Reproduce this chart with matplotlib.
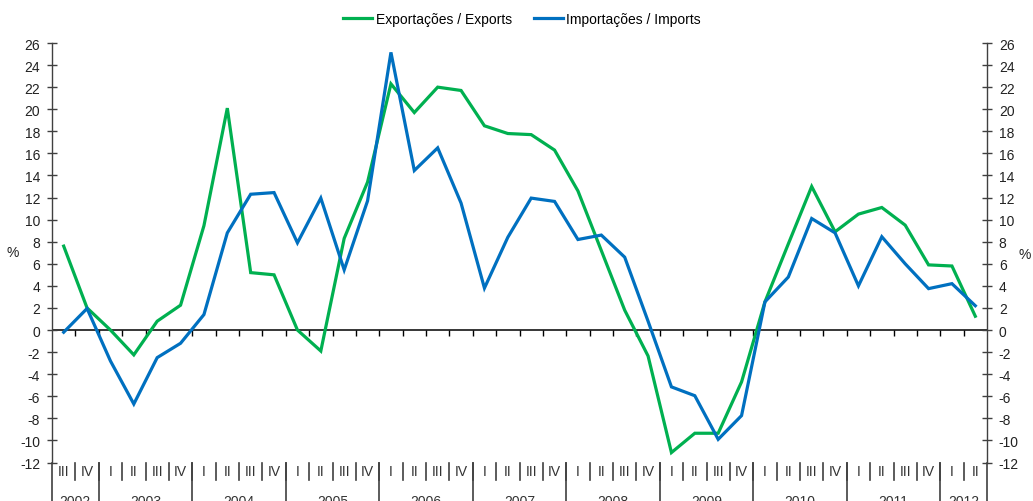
import matplotlib
matplotlib.use("Agg")
import matplotlib.pyplot as plt
import matplotlib.transforms as mtransforms

# --- datos (taxa de variação homóloga, %) ---
trimestres = ["III", "IV"] + ["I", "II", "III", "IV"] * 9 + ["I", "II"]
anos = ["2002", "2003", "2004", "2005", "2006", "2007", "2008", "2009", "2010", "2011", "2012"]
anos_inicio = [0, 2, 6, 10, 14, 18, 22, 26, 30, 34, 38]
anos_fim = [1, 5, 9, 13, 17, 21, 25, 29, 33, 37, 39]

exportacoes = [7.6, 2.0, 0.0, -2.25, 0.8, 2.25, 9.45, 20.1, 5.2, 5.0,
               0.0, -1.9, 8.3, 13.4, 22.3, 19.7, 22.0, 21.7, 18.5, 17.8,
               17.7, 16.3, 12.6, 7.2, 1.8, -2.35, -11.1, -9.35, -9.35, -4.7,
               2.55, 7.8, 13.0, 8.9, 10.5, 11.1, 9.5, 5.9, 5.8, 1.25]
importacoes = [-0.2, 1.95, -2.8, -6.7, -2.5, -1.2, 1.4, 8.8, 12.3, 12.45,
               7.9, 11.95, 5.45, 11.7, 25.15, 14.45, 16.5, 11.5, 3.8, 8.4,
               11.95, 11.65, 8.2, 8.6, 6.6, 0.8, -5.15, -5.95, -9.9, -7.75,
               2.55, 4.8, 10.1, 8.8, 4.0, 8.45, 6.0, 3.75, 4.2, 2.2]

VERDE = "#00B050"
AZUL = "#0070C0"
CINZA = "#404040"

plt.rcParams["font.family"] = ["Liberation Sans", "DejaVu Sans"]
plt.rcParams["font.size"] = 10
plt.rcParams["axes.unicode_minus"] = False

W, H = 1033, 502
fig = plt.figure(figsize=(W / 100, H / 100), dpi=100)

# área do gráfico em pixels
x0, x1 = 52, 987
y_top, y_bot = 44, 463.5
ax = fig.add_axes([x0 / W, 1 - y_bot / H, (x1 - x0) / W, (y_bot - y_top) / H])

x = list(range(len(exportacoes)))
ax.plot(x, exportacoes, color=VERDE, lw=2.3, label="Exportações / Exports", solid_joinstyle="miter")
ax.plot(x, importacoes, color=AZUL, lw=2.3, label="Importações / Imports", solid_joinstyle="miter")

ax.set_xlim(-0.5, len(x) - 0.5)
ax.set_ylim(-12, 26)
ax.set_yticks(range(-12, 27, 2))
ax.set_xticks([])

for s in ["top", "bottom"]:
    ax.spines[s].set_visible(False)
for s in ["left", "right"]:
    ax.spines[s].set_color(CINZA)
    ax.spines[s].set_linewidth(1)

ax.tick_params(axis="y", which="both", direction="inout", length=7, width=1,
               color=CINZA, labelcolor="#222222", left=True, right=True,
               labelleft=True, labelright=True, pad=5, labelsize=10)

# linha do zero com marcas para baixo
ax.axhline(0, color="black", lw=1.1, zorder=1)
fronteiras = [k + 0.5 for k in range(len(x) - 1)]
ax.plot(fronteiras, [0] * len(fronteiras), ls="", marker=3, ms=4, mew=1, color="black", zorder=1)

# eixo de categorias (trimestres / anos)
tr = mtransforms.blended_transform_factory(ax.transData, ax.transAxes)
h_px = y_bot - y_top
q_len = 17 / h_px
y_len = 60 / h_px
for k in fronteiras:
    ax.plot([k, k], [0, -q_len], transform=tr, color=CINZA, lw=1.2, clip_on=False)
for ini in anos_inicio + [len(x)]:
    ax.plot([ini - 0.5, ini - 0.5], [0, -y_len], transform=tr, color=CINZA, lw=1.2, clip_on=False)
for k, t in enumerate(trimestres):
    ax.text(k, -9 / h_px, t, transform=tr, ha="center", va="center", fontsize=10, color="#333333")
for a, i0, i1 in zip(anos, anos_inicio, anos_fim):
    ax.text((i0 + i1) / 2, -32 / h_px, a, transform=tr, ha="center", va="top", fontsize=10, color="#333333")

# unidades
fig.text(13 / W, 1 - 253 / H, "%", ha="center", va="center", fontsize=10, color="#222222")
fig.text(1025 / W, 1 - 255 / H, "%", ha="center", va="center", fontsize=10, color="#222222")

fig.legend(loc="center", bbox_to_anchor=(522 / W, 1 - 20 / H), ncol=2, frameon=False,
           handlelength=2.1, handletextpad=0.25, columnspacing=1.6, fontsize=10)

fig.savefig("out.png", dpi=100)
